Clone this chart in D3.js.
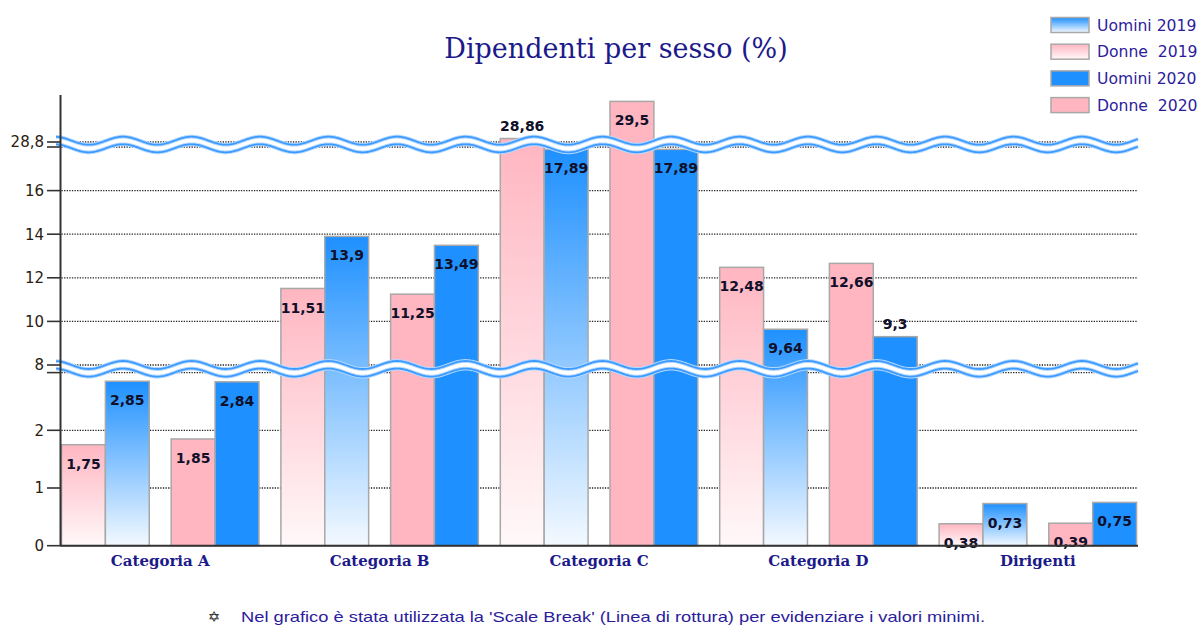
<!DOCTYPE html>
<html><head><meta charset="utf-8">
<script src="https://cdn.jsdelivr.net/npm/d3@7"></script>
<style>body{margin:0;background:#fff} svg{display:block}</style>
</head><body><svg id="c" width="1201" height="626"></svg>
<script>
// ---- data ----
const categories = ["Categoria A","Categoria B","Categoria C","Categoria D","Dirigenti"];
const donne2019  = [1.75, 11.51, 28.86, 12.48, 0.38];
const uomini2019 = [2.85, 13.9, 17.89, 9.64, 0.73];
const donne2020  = [1.85, 11.25, 29.5, 12.66, 0.39];
const uomini2020 = [2.84, 13.49, 17.89, 9.3, 0.75];
const years = ["2019","2020"];
const sexes = ["Donne","Uomini"];
const legendNames = ["Uomini 2019","Donne  2019","Uomini 2020","Donne  2020"];
// scale-break segments of the value axis
const segDomains = [[0,3],[8,18],[28.8,29.6]];
const segTicks = [[0,1,2],[8,10,12,14,16],[28.8]];
const title = "Dipendenti per sesso (%)";
const footnote = "Nel grafico è stata utilizzata la 'Scale Break' (Linea di rottura) per evidenziare i valori minimi.";

// ---- layout ----
const svg = d3.select("#c");
const xLeft = 61.5, catW = 219.4, xRight = 1138;
const segRanges = [[545.7,372.6],[365,147],[142,95.6]];
const segScales = segDomains.map((d,i)=>d3.scaleLinear().domain(d).range(segRanges[i]));
function y(v){
  for (let i=0;i<segScales.length;i++){
    if (v <= segDomains[i][1] || i===segScales.length-1) return segScales[i](v);
  }
}
const breaks = [ (segRanges[0][1]+segRanges[1][0])/2, (segRanges[1][1]+segRanges[2][0])/2 ];

const x0 = d3.scaleBand().domain(categories).range([xLeft, xLeft+catW*categories.length]).padding(0);
const xYear = d3.scaleBand().domain(years).range([0, x0.bandwidth()]).paddingInner(0.2).paddingOuter(0.1).align(0);
const xSex = d3.scaleBand().domain(sexes).range([0, xYear.bandwidth()]).padding(0);

const fmt = v => String(v).replace(".", ",");

// gradients
const defs = svg.append("defs");
function grad(id, top, bottom){
  const g = defs.append("linearGradient").attr("id", id).attr("x1",0).attr("y1",0).attr("x2",0).attr("y2",1);
  g.append("stop").attr("offset","0%").attr("stop-color", top);
  g.append("stop").attr("offset","100%").attr("stop-color", bottom);
}
grad("gPink", "#ffb6c1", "#fff8f9");
grad("gBlue", "#1e90ff", "#f3f9ff");

const fills = {"Donne2019":"url(#gPink)","Uomini2019":"url(#gBlue)","Donne2020":"#ffb6c1","Uomini2020":"#1e90ff"};
const values = {"Donne2019":donne2019,"Uomini2019":uomini2019,"Donne2020":donne2020,"Uomini2020":uomini2020};

// title
svg.append("text").attr("x", 616).attr("y", 58).attr("text-anchor","middle")
  .attr("font-family","'DejaVu Serif', serif").attr("font-size", 27).attr("fill","#1c1a8a").text(title);

// gridlines
const gridVals = [];
segTicks.forEach(t=>t.forEach(v=>{ if (v!==0) gridVals.push(v); }));
gridVals.push(segDomains[0][1], segDomains[1][1]);
svg.append("g").selectAll("line").data(gridVals).join("line")
  .attr("x1", xLeft).attr("x2", xRight).attr("y1", d=>y(d)).attr("y2", d=>y(d))
  .attr("stroke","#222").attr("stroke-width",1.3).attr("stroke-dasharray","1.3,1.3");

// bars
const barData = [];
categories.forEach((c,ci)=>{
  years.forEach(yr=>{
    sexes.forEach(sx=>{
      const key = sx+yr;
      barData.push({c, yr, sx, key, v: values[key][ci]});
    });
  });
});
const gb = svg.append("g");
gb.selectAll("rect").data(barData).join("rect")
  .attr("x", d=>x0(d.c)+xYear(d.yr)+xSex(d.sx))
  .attr("width", xSex.bandwidth())
  .attr("y", d=>y(d.v))
  .attr("height", d=>y(0)-y(d.v))
  .attr("fill", d=>fills[d.key])
  .attr("stroke","#a8a8a8").attr("stroke-width",1.5);

// break bands
const A = 4, P = 68.5, phase = 123;
function wave(cy, off){
  return d3.range(56, xRight+0.5, 1).map(xx=>[xx, cy+off - A*Math.cos(2*Math.PI*(xx-phase)/P)]);
}
const gBreak = svg.append("g");
breaks.forEach(cy=>{
  const up = wave(cy,-3.8), lo = wave(cy,3.8);
  const area = d3.area().x(d=>d[0]).y0((d,i)=>up[i][1]).y1((d,i)=>lo[i][1]);
  gBreak.append("path").attr("d", area(up)).attr("fill","#fff");
  [up, lo].forEach(p=>{
    gBreak.append("path").attr("d", d3.line()(p)).attr("fill","none").attr("stroke","#b3d8ff").attr("stroke-width",3.8);
    gBreak.append("path").attr("d", d3.line()(p)).attr("fill","none").attr("stroke","#3d9bff").attr("stroke-width",1.8);
  });
});

// value labels
const gl = svg.append("g");
barData.forEach(d=>{
  const top = y(d.v);
  const cx = x0(d.c)+xYear(d.yr)+xSex(d.sx)+xSex.bandwidth()/2;
  const crosses = breaks.some(b => b > top && b < top+34);
  const cy = crosses ? top-13 : top+19;
  gl.append("text").attr("x", cx).attr("y", cy).attr("dy","0.36em").attr("text-anchor","middle")
    .attr("font-family","'DejaVu Sans', sans-serif").attr("font-weight","bold").attr("font-size",14)
    .attr("fill","#10102a").text(fmt(d.v));
});

// axes
const ga = svg.append("g");
ga.append("line").attr("x1", 60.5).attr("x2", 60.5).attr("y1", 95).attr("y2", y(0)).attr("stroke","#333").attr("stroke-width",2);
ga.append("line").attr("x1", 60).attr("x2", xRight).attr("y1", y(0)).attr("y2", y(0)).attr("stroke","#333").attr("stroke-width",2);
const tickAll = [];
segTicks.forEach(t=>t.forEach(v=>tickAll.push({v, label: fmt(v)})));
tickAll.push({v: segDomains[0][1], label: ""}, {v: segDomains[1][1], label: ""});
tickAll.forEach(t=>{
  ga.append("line").attr("x1", 47).attr("x2", 60).attr("y1", y(t.v)).attr("y2", y(t.v)).attr("stroke","#333").attr("stroke-width",1.6);
  if (t.label) ga.append("text").attr("x", 44).attr("y", y(t.v)).attr("dy","0.36em").attr("text-anchor","end")
    .attr("font-family","'DejaVu Sans', sans-serif").attr("font-size",15).attr("fill","#2a2010").text(t.label);
});
// category labels
ga.selectAll("text.cat").data(categories).join("text").attr("class","cat")
  .attr("x", d=>x0(d)+xYear.step()*0.9).attr("y", 566).attr("text-anchor","middle")
  .attr("font-family","'DejaVu Serif', serif").attr("font-weight","bold").attr("font-size",15)
  .attr("fill","#1c1a8a").text(d=>d);

// legend
const legFill = ["url(#gBlue)","url(#gPink)","#1e90ff","#ffb6c1"];
const lg = svg.append("g");
legendNames.forEach((n,i)=>{
  const cy = 25 + i*26.7;
  lg.append("rect").attr("x",1051).attr("y",cy-7.5).attr("width",38).attr("height",15)
    .attr("fill",legFill[i]).attr("stroke","#a8a8a8").attr("stroke-width",1.5);
  lg.append("text").attr("x",1097).attr("y",cy).attr("dy","0.36em").attr("xml:space","preserve")
    .style("white-space","pre")
    .attr("font-family","'DejaVu Sans', sans-serif").attr("font-size",15.6).attr("fill","#2c1c9c").text(n);
});

// footnote
svg.append("text").attr("x", 214).attr("y", 617).attr("dy","0.36em").attr("text-anchor","middle")
  .attr("font-family","'DejaVu Sans', sans-serif").attr("font-size",15).attr("fill","#222").text("✡");
svg.append("text").attr("x", 241).attr("y", 617).attr("dy","0.36em")
  .attr("font-family","'Liberation Sans', sans-serif").attr("font-size",15).attr("fill","#2c1c9c")
  .attr("textLength", 744).attr("lengthAdjust","spacingAndGlyphs").text(footnote);
</script></body></html>
